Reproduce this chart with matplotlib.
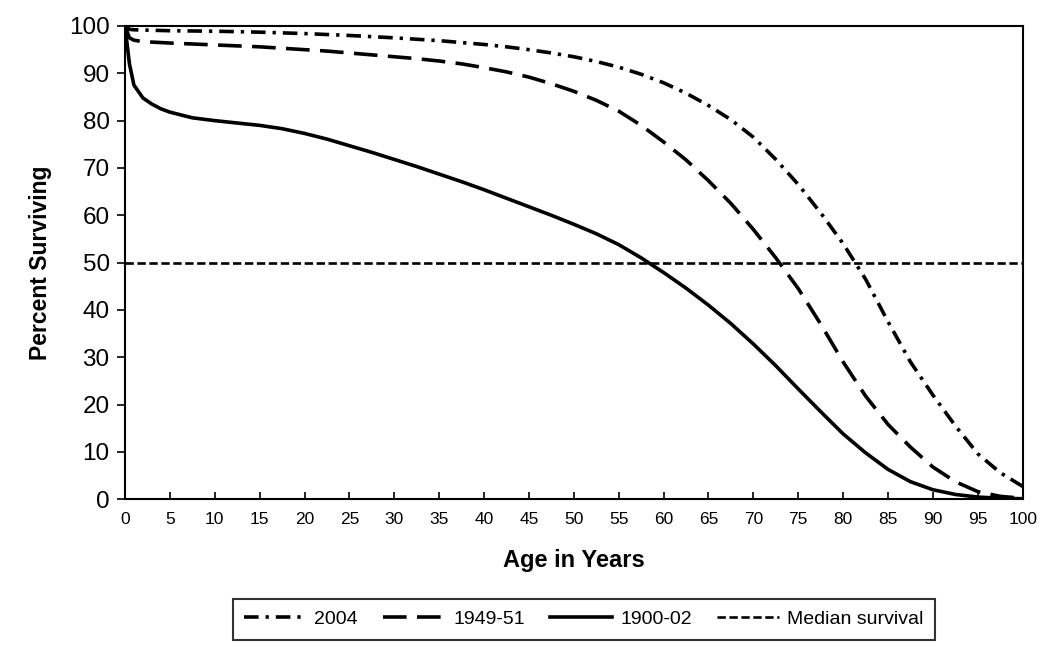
import matplotlib
matplotlib.use('Agg')
import matplotlib.pyplot as plt

plt.rcParams['font.family'] = ['Liberation Sans', 'DejaVu Sans']
plt.rcParams['lines.scale_dashes'] = False

# Survival data (percent surviving by age)
ages = [0, 0.5, 1, 2, 3, 4, 5, 7.5, 10, 12.5, 15, 17.5, 20, 22.5, 25, 27.5, 30,
        32.5, 35, 37.5, 40, 42.5, 45, 47.5, 50, 52.5, 55, 57.5, 60, 62.5, 65,
        67.5, 70, 72.5, 75, 77.5, 80, 82.5, 85, 87.5, 90, 92.5, 95, 97.5, 100]

surv_2004 = [100, 99.3, 99.2, 99.15, 99.1, 99.05, 99.0, 98.95, 98.9, 98.8, 98.7,
             98.55, 98.4, 98.2, 98.0, 97.75, 97.5, 97.2, 96.9, 96.5, 96.1, 95.6,
             95.0, 94.3, 93.5, 92.5, 91.3, 89.8, 88.0, 85.8, 83.2, 80.2, 76.5,
             71.8, 66.5, 60.5, 54.0, 46.5, 37.5, 29.0, 22.0, 15.5, 9.6, 5.6, 2.7]

surv_1949 = [100, 97.5, 97.0, 96.7, 96.6, 96.5, 96.4, 96.2, 96.0, 95.8, 95.6,
             95.3, 95.0, 94.7, 94.3, 93.9, 93.5, 93.1, 92.6, 92.0, 91.2, 90.3,
             89.2, 87.8, 86.2, 84.3, 82.0, 79.0, 75.5, 71.7, 67.3, 62.5, 57.0,
             51.0, 44.5, 37.0, 29.0, 21.8, 15.8, 11.0, 6.8, 3.7, 1.6, 0.6, 0.2]

surv_1900 = [100, 92.0, 87.5, 84.8, 83.5, 82.5, 81.8, 80.6, 80.0, 79.5, 79.0,
             78.3, 77.3, 76.1, 74.7, 73.3, 71.8, 70.3, 68.7, 67.1, 65.4, 63.6,
             61.8, 60.0, 58.1, 56.1, 53.8, 51.0, 47.9, 44.6, 41.0, 37.1, 32.8,
             28.2, 23.3, 18.5, 13.8, 9.8, 6.3, 3.7, 2.0, 1.0, 0.45, 0.2, 0.1]

median_level = 50
x_ticks = list(range(0, 101, 5))
y_ticks = list(range(0, 101, 10))

fig = plt.figure(figsize=(10.5, 6.5), dpi=100)
ax = fig.add_axes([0.119, 0.232, 0.855, 0.728])

ax.plot(ages, surv_2004, color='black', lw=2.6, dashes=(10.5, 5, 2.4, 5),
        label='2004')
ax.plot(ages, surv_1949, color='black', lw=2.6, dashes=(17, 7.5),
        label='1949-51')
ax.plot(ages, surv_1900, color='black', lw=2.6, label='1900-02')
ax.axhline(median_level, color='black', lw=1.9, dashes=(6, 2.6),
           label='Median survival')

ax.set_xlim(0, 100)
ax.set_ylim(0, 100)
ax.set_xticks(x_ticks)
ax.set_yticks(y_ticks)
ax.tick_params(axis='x', direction='in', length=5, width=1.2, labelsize=12.5, pad=9)
ax.tick_params(axis='y', direction='out', length=6, width=1.2, labelsize=17.5, pad=5)
for s in ax.spines.values():
    s.set_linewidth(1.5)

ax.set_xlabel('Age in Years', fontsize=17, fontweight='bold', labelpad=16)
ax.set_ylabel('Percent Surviving', fontsize=16.5, fontweight='bold', labelpad=12)

leg = fig.legend(loc='center', bbox_to_anchor=(0.556, 0.047), ncol=4,
                 fontsize=14, frameon=True, fancybox=False, handlelength=3.2,
                 columnspacing=1.3, handletextpad=0.4, borderpad=0.6)
leg.get_frame().set_edgecolor('black')
leg.get_frame().set_linewidth(1.5)

fig.savefig('out.png', dpi=100)
